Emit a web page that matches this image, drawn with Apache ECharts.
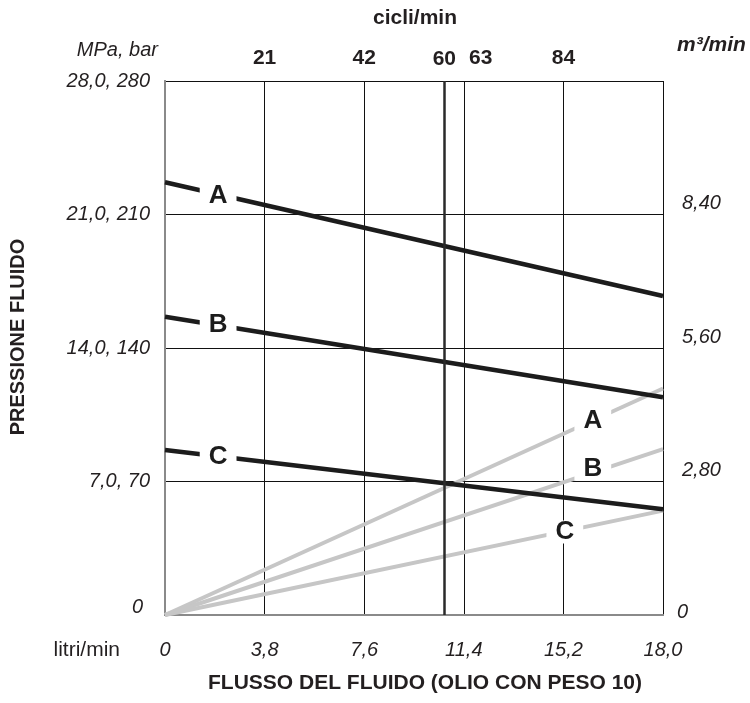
<!DOCTYPE html>
<html>
<head>
<meta charset="utf-8">
<script src="https://cdn.jsdelivr.net/npm/echarts@6/dist/echarts.min.js"></script>
<style>
html,body{margin:0;padding:0;background:#fff;}
#chart{width:750px;height:703px;}
</style>
</head>
<body>
<div id="chart"></div>
<script>
// ---- data ----
const cycleTicks = [0, 21, 42, 63, 84, 105];              // cicli/min scale (top)
const topLabels = ['', '21', '42', '63', '84', ''];
const bottomLabels = ['0', '3,8', '7,6', '11,4', '15,2', '18,0'];  // litri/min
const leftLabels = ['0', '7,0, 70', '14,0, 140', '21,0, 210', '28,0, 280']; // MPa, bar
const rightLabels = ['0', '2,80', '5,60', '8,40', ''];     // m3/min
const cycle60Pos = 58.9;      // position of the "60" line
const cycle60Label = '60';

// Pressure curves (MPa) at start (x=0) and end (x=105 cycles)
const pressureNames = ['A', 'B', 'C'];
const pressureStart = [22.69, 15.64, 8.65];
const pressureEnd = [16.73, 11.42, 5.54];
// Flow curves (m3/min) from origin to end
const flowNames = ['A', 'B', 'C'];
const flowStart = [0, 0, 0];
const flowEnd = [4.75, 3.48, 2.19];
// Letter label positions [cycles, value]
const pressureLabelPos = [[11.2, 22.0], [11.2, 15.2], [11.2, 8.27]];
const flowLabelPos = [[90.2, 4.08], [90.2, 3.06], [84.3, 1.74]];

const titleTop = 'cicli/min';
const titleLeftUnit = 'MPa, bar';
const titleRightUnit = 'm³/min';
const titleBottomUnit = 'litri/min';
const titleX = 'FLUSSO DEL FLUIDO (OLIO CON PESO 10)';
const titleY = 'PRESSIONE FLUIDO';

// ---- chart ----
const FONT = '"Liberation Sans", Arial, Helvetica, sans-serif';
const TXT = '#231f20';
const FRAME = '#8a8a8a';
const chart = echarts.init(document.getElementById('chart'), null, {renderer: 'canvas'});

const series = [];
flowNames.forEach((n, i) => {
  series.push({
    type: 'line', name: 'flow' + n, xAxisIndex: 0, yAxisIndex: 1, z: 2,
    symbol: 'none', silent: true,
    lineStyle: {color: '#c6c6c6', width: 4, cap: 'butt'},
    data: [[cycleTicks[0], flowStart[i]], [cycleTicks[5], flowEnd[i]]]
  });
});
pressureNames.forEach((n, i) => {
  series.push({
    type: 'line', name: 'press' + n, xAxisIndex: 0, yAxisIndex: 0, z: 3,
    symbol: 'none', silent: true,
    lineStyle: {color: '#1c1c1c', width: 4.5, cap: 'butt'},
    data: [[cycleTicks[0], pressureStart[i]], [cycleTicks[5], pressureEnd[i]]]
  });
});
const letterLabel = {
  show: true, position: 'inside', formatter: p => p.name, opacity: 1,
  fontFamily: FONT, fontWeight: 'bold', fontSize: 26, color: '#1c1c1c',
  backgroundColor: '#ffffff', padding: [1, 9, 0, 9], lineHeight: 22
};
series.push({
  type: 'scatter', xAxisIndex: 0, yAxisIndex: 0, z: 6, silent: true,
  symbolSize: 1, itemStyle: {color: '#ffffff', opacity: 1},
  label: letterLabel, emphasis: {disabled: true},
  data: pressureNames.map((n, i) => ({name: n, value: pressureLabelPos[i]}))
});
series.push({
  type: 'scatter', xAxisIndex: 0, yAxisIndex: 1, z: 5, silent: true,
  symbolSize: 1, itemStyle: {color: '#ffffff', opacity: 1},
  label: letterLabel, emphasis: {disabled: true},
  data: flowNames.map((n, i) => ({name: n, value: flowLabelPos[i]}))
});
// 60 cycles line
series.push({
  type: 'line', xAxisIndex: 0, yAxisIndex: 0, data: [], z: 4,
  markLine: {
    silent: true, symbol: 'none', animation: false,
    lineStyle: {color: '#2a2a2a', width: 2.5, type: 'solid'},
    label: {show: true, position: 'end', formatter: cycle60Label, distance: 11,
      fontFamily: FONT, fontWeight: 'bold', fontSize: 21, color: TXT},
    data: [{xAxis: cycle60Pos}]
  }
});

const option = {
  animation: false,
  backgroundColor: '#fff',
  grid: {left: 165, right: 87, top: 81, bottom: 88, containLabel: false},
  xAxis: [
    {
      type: 'value', position: 'bottom', min: 0, max: 105, interval: 21,
      axisLine: {show: true, lineStyle: {color: FRAME, width: 2}},
      axisTick: {show: false},
      splitLine: {show: true, lineStyle: {color: '#111', width: 1}},
      axisLabel: {
        margin: 25, fontFamily: FONT, fontStyle: 'italic', fontSize: 20, color: TXT,
        formatter: v => bottomLabels[Math.round(v / 21)]
      }
    },
    {
      type: 'value', position: 'top', min: 0, max: 105, interval: 21,
      axisLine: {show: true, lineStyle: {color: FRAME, width: 2}},
      axisTick: {show: false}, splitLine: {show: false},
      axisLabel: {
        margin: 12, fontFamily: FONT, fontWeight: 'bold', fontSize: 21, color: TXT,
        formatter: v => {
          const s = topLabels[Math.round(v / 21)];
          return s === '63' ? '{s|' + s + '}' : s;
        },
        rich: {s: {padding: [0, 0, 0, 34], fontFamily: FONT, fontWeight: 'bold', fontSize: 21, color: TXT}}
      }
    }
  ],
  yAxis: [
    {
      type: 'value', position: 'left', min: 0, max: 28, interval: 7,
      axisLine: {show: true, lineStyle: {color: FRAME, width: 2}},
      axisTick: {show: false},
      splitLine: {show: true, lineStyle: {color: '#111', width: 1}},
      axisLabel: {
        margin: 15, fontFamily: FONT, fontStyle: 'italic', fontSize: 20, color: TXT,
        formatter: v => {
          const s = leftLabels[Math.round(v / 7)];
          return s === '0' ? '{z|0}' : s;
        },
        rich: {z: {padding: [0, 7, 16, 0], fontFamily: FONT, fontStyle: 'italic', fontSize: 20, color: TXT}}
      }
    },
    {
      type: 'value', position: 'right', min: 0, max: 11.2, interval: 2.8,
      axisLine: {show: true, lineStyle: {color: FRAME, width: 2}},
      axisTick: {show: false}, splitLine: {show: false},
      axisLabel: {
        margin: 14, fontFamily: FONT, fontStyle: 'italic', fontSize: 20, color: TXT,
        formatter: v => {
          const s = rightLabels[Math.round(v / 2.8)];
          if (!s) return '';
          return s === '0' ? '{z|0}' : '{n|' + s + '}';
        },
        rich: {
          z: {padding: [0, 0, 6, 0], fontFamily: FONT, fontStyle: 'italic', fontSize: 20, color: TXT},
          n: {padding: [0, 0, 22, 5], fontFamily: FONT, fontStyle: 'italic', fontSize: 20, color: TXT}
        }
      }
    }
  ],
  series: series,
  graphic: [
    {type: 'text', x: 415, y: 18, silent: true,
      style: {text: titleTop, font: 'bold 21px ' + FONT, fill: TXT, textAlign: 'center', textVerticalAlign: 'middle'}},
    {type: 'text', x: 158, y: 50, silent: true,
      style: {text: titleLeftUnit, font: 'italic 20px ' + FONT, fill: TXT, textAlign: 'right', textVerticalAlign: 'middle'}},
    {type: 'text', x: 677, y: 45, silent: true,
      style: {text: titleRightUnit, font: 'italic bold 21px ' + FONT, fill: TXT, textAlign: 'left', textVerticalAlign: 'middle'}},
    {type: 'text', x: 120, y: 650, silent: true,
      style: {text: titleBottomUnit, font: '21px ' + FONT, fill: TXT, textAlign: 'right', textVerticalAlign: 'middle'}},
    {type: 'text', x: 425, y: 683, silent: true,
      style: {text: titleX, font: 'bold 21px ' + FONT, fill: TXT, textAlign: 'center', textVerticalAlign: 'middle'}},
    {type: 'text', x: 18, y: 337, rotation: Math.PI / 2, silent: true,
      style: {text: titleY, font: 'bold 20px ' + FONT, fill: TXT, textAlign: 'center', textVerticalAlign: 'middle'}}
  ]
};
chart.setOption(option);
</script>
</body>
</html>
